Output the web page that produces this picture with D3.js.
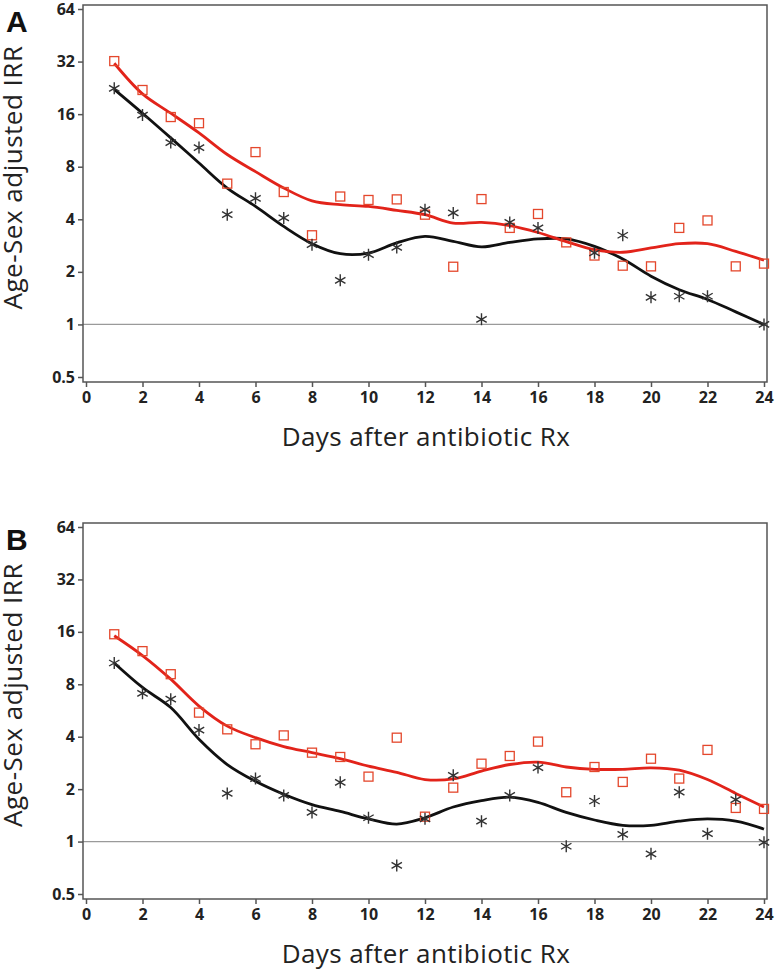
<!DOCTYPE html>
<html>
<head>
<meta charset="utf-8">
<script src="https://cdn.jsdelivr.net/npm/d3@7"></script>
<style>
  html, body { margin: 0; padding: 0; background: #fff; }
  svg { display: block; }
</style>
</head>
<body>
<svg id="chart" width="776" height="971"></svg>
<script>
// ---------- Data ----------
const days = [1,2,3,4,5,6,7,8,9,10,11,12,13,14,15,16,17,18,19,20,21,22,23,24];
const xTicks = [0,2,4,6,8,10,12,14,16,18,20,22,24];
const yTicks = [0.5,1,2,4,8,16,32,64];

// Panel A
const aSquares = [32.2,22.0,15.4,14.2,6.4,9.7,5.73,3.24,5.4,5.16,5.2,4.25,2.14,5.22,3.57,4.29,2.95,2.48,2.17,2.15,3.57,3.94,2.15,2.23];
const aStars   = [22.5,15.8,11.0,10.3,4.25,5.27,4.07,2.86,1.79,2.51,2.76,4.54,4.35,1.07,3.84,3.57,null,2.57,3.24,1.43,1.45,1.45,null,1.0];
const aRedFit  = [31.3,20.9,16.2,12.5,9.4,7.5,6.04,5.1,4.85,4.74,4.5,4.25,3.8,3.84,3.68,3.36,2.98,2.68,2.59,2.74,2.9,2.9,2.62,2.33];
const aBlackFit= [22.2,16.2,11.7,8.4,6.04,4.74,3.64,2.9,2.54,2.56,2.93,3.19,2.99,2.78,2.95,3.09,3.09,2.8,2.37,1.89,1.58,1.39,1.18,1.0];

// Panel B
const bSquares = [15.5,12.4,9.14,5.5,4.41,3.62,4.07,3.24,3.06,2.36,3.95,1.39,2.04,2.8,3.1,3.75,1.92,2.68,2.2,2.99,2.3,3.36,1.56,1.54];
const bStars   = [10.6,7.1,6.57,4.37,1.89,2.3,1.84,1.47,2.19,1.37,0.73,1.35,2.4,1.31,1.84,2.66,0.94,1.71,1.1,0.85,1.92,1.11,1.74,0.99];
const bRedFit  = [15.2,11.7,8.56,6.0,4.6,3.95,3.51,3.24,2.99,2.71,2.5,2.27,2.29,2.54,2.77,2.86,2.68,2.6,2.6,2.65,2.57,2.27,1.89,1.58];
const bBlackFit= [10.6,7.67,5.88,3.87,2.77,2.22,1.87,1.63,1.49,1.35,1.26,1.37,1.58,1.72,1.8,1.68,1.47,1.33,1.24,1.24,1.31,1.35,1.31,1.18];

const panels = [
  { label: "A", top: 5,   bottom: 382, squares: aSquares, stars: aStars, red: aRedFit, black: aBlackFit },
  { label: "B", top: 523, bottom: 899, squares: bSquares, stars: bStars, red: bRedFit, black: bBlackFit }
];

// ---------- Drawing ----------
const svg = d3.select("#chart");
const frameLeft = 83, frameRight = 767;
const x = d3.scaleLinear().domain([0, 24]).range([86, 764]);

const COLOR_RED = "#e2231a";
const COLOR_SQ = "#e4472c";
const COLOR_BLACK = "#111";
const COLOR_STAR = "#333";
const FONT = "'Open Sans', 'Noto Sans', sans-serif";

function starPath(cx, cy, r) {
  const a = Math.PI / 6;
  const dx = r * Math.cos(a), dy = r * Math.sin(a);
  return `M${cx},${cy - r}L${cx},${cy + r}` +
         `M${cx - dx},${cy - dy}L${cx + dx},${cy + dy}` +
         `M${cx - dx},${cy + dy}L${cx + dx},${cy - dy}`;
}

panels.forEach(p => {
  const g = svg.append("g");
  const y = d3.scaleLog().base(2).domain([0.5, 64]).range([p.bottom - 5, p.top + 4]);

  // reference line at 1
  g.append("line")
    .attr("x1", frameLeft).attr("x2", frameRight)
    .attr("y1", y(1)).attr("y2", y(1))
    .attr("stroke", "#9a9a9a").attr("stroke-width", 1.2);

  // frame
  g.append("rect")
    .attr("x", frameLeft).attr("y", p.top)
    .attr("width", frameRight - frameLeft).attr("height", p.bottom - p.top)
    .attr("fill", "none").attr("stroke", "#555").attr("stroke-width", 1.5);

  // y axis
  const yAxis = d3.axisLeft(y).tickValues(yTicks).tickFormat(d => d).tickSize(5).tickPadding(3);
  const ya = g.append("g").attr("transform", `translate(${frameLeft},0)`).call(yAxis);
  ya.select(".domain").remove();
  ya.selectAll(".tick line").attr("stroke", "#555").attr("stroke-width", 1.5);
  ya.selectAll(".tick text")
    .attr("font-family", FONT)
    .attr("font-weight", "bold").attr("font-size", 16).attr("fill", "#222");

  // x axis
  const xAxis = d3.axisBottom(x).tickValues(xTicks).tickFormat(d => d).tickSize(5).tickPadding(5);
  const xa = g.append("g").attr("transform", `translate(0,${p.bottom})`).call(xAxis);
  xa.select(".domain").remove();
  xa.selectAll(".tick line").attr("stroke", "#555").attr("stroke-width", 1.5);
  xa.selectAll(".tick text")
    .attr("font-family", FONT)
    .attr("font-weight", "bold").attr("font-size", 16).attr("fill", "#222");

  // axis titles
  g.append("text")
    .attr("x", 426).attr("y", p.bottom + 64)
    .attr("text-anchor", "middle")
    .attr("font-family", FONT)
    .attr("font-size", 26).attr("letter-spacing", 0.4).attr("fill", "#222")
    .text("Days after antibiotic Rx");

  g.append("text")
    .attr("transform", `translate(22,${(p.top + p.bottom) / 2 - 16}) rotate(-90)`)
    .attr("text-anchor", "middle")
    .attr("font-family", FONT)
    .attr("font-size", 26).attr("letter-spacing", 0.5).attr("fill", "#222")
    .text("Age-Sex adjusted IRR");

  // panel label
  g.append("text")
    .attr("x", 6).attr("y", p.top + 27)
    .attr("font-family", "'Liberation Sans', Arial, sans-serif")
    .attr("font-weight", "bold").attr("font-size", 30).attr("fill", "#111")
    .text(p.label);

  // fitted lines
  const line = d3.line()
    .x((d, i) => x(days[i]))
    .y(d => y(d))
    .curve(d3.curveCatmullRom.alpha(0.5));

  g.append("path").datum(p.black)
    .attr("d", line).attr("fill", "none")
    .attr("stroke", COLOR_BLACK).attr("stroke-width", 2.8);
  g.append("path").datum(p.red)
    .attr("d", line).attr("fill", "none")
    .attr("stroke", COLOR_RED).attr("stroke-width", 2.8);

  // squares
  const sq = 9;
  g.selectAll(".sq").data(p.squares.map((v, i) => ({ d: days[i], v })).filter(o => o.v != null))
    .enter().append("rect")
    .attr("x", o => x(o.d) - sq / 2).attr("y", o => y(o.v) - sq / 2)
    .attr("width", sq).attr("height", sq)
    .attr("fill", "none").attr("stroke", COLOR_SQ).attr("stroke-width", 1.3);

  // asterisks
  g.selectAll(".st").data(p.stars.map((v, i) => ({ d: days[i], v })).filter(o => o.v != null))
    .enter().append("path")
    .attr("d", o => starPath(x(o.d), y(o.v), 6))
    .attr("fill", "none").attr("stroke", COLOR_STAR).attr("stroke-width", 1.4);
});
</script>
</body>
</html>
